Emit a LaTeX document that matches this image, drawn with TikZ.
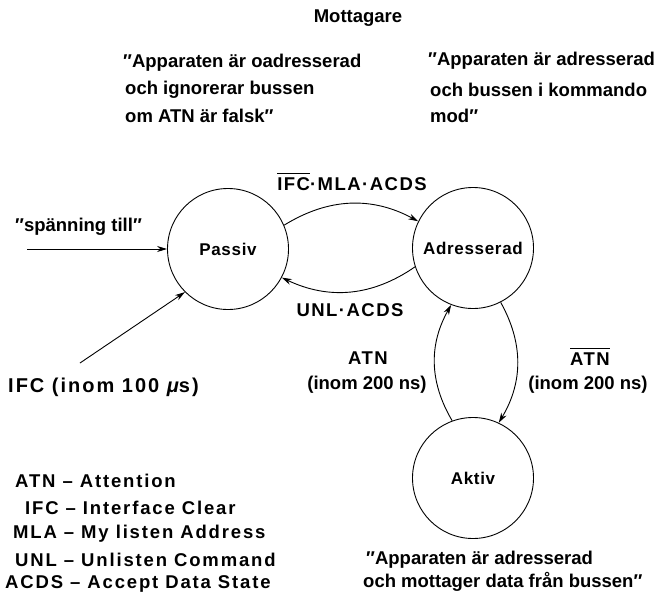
\documentclass[tikz,border=0pt]{standalone}
\usepackage{fontspec}
\setmainfont{Liberation Sans}
\newfontfamily\spacedfont{Liberation Sans}[LetterSpace=8]
\newfontfamily\widefont{Liberation Sans}[LetterSpace=10]
\newfontfamily\statefont{Liberation Sans}[LetterSpace=4]
\usetikzlibrary{arrows.meta}
% text with a bar over it (negated signal)
\newcommand\barover[1]{\vbox{\hrule height 1.5pt\kern 3pt\hbox{#1}}}

\begin{document}
\begin{tikzpicture}[x=1pt, y=-1pt,
  base/.style={inner sep=0pt, font=\bfseries\fontsize{18.5}{22}\selectfont},
  txt/.style={base, anchor=west},
  lbl/.style={inner sep=0pt, font=\spacedfont\bfseries\fontsize{18.5}{22}\selectfont},
  legend/.style={inner sep=0pt, anchor=west, font=\widefont\bfseries\fontsize{18.5}{22}\selectfont},
  state/.style={circle, draw, line width=0.9pt, minimum size=121pt, inner sep=0pt,
                font=\statefont\bfseries\fontsize{17}{20}\selectfont},
  arr/.style={line width=0.9pt, -{Stealth[length=10pt, width=6pt]}}]

\useasboundingbox (0,0) rectangle (662,597);

% title
\node[base] (title) at (358,18) {Mottagare};

% state descriptions
\node[txt] (d1a) at (123,63) {″Apparaten är oadresserad};
\node[txt] (d1b) at (125,90) {och ignorerar bussen};
\node[txt] (d1c) at (125,116) {om ATN är falsk″};
\node[txt] (d2a) at (428,61) {″Apparaten är adresserad};
\node[txt] (d2b) at (430,90) {och bussen i kommando};
\node[txt] (d2c) at (430,116) {mod″};
\node[txt] (d3a) at (366,560) {″Apparaten är adresserad};
\node[txt] (d3b) at (363,582) {och mottager data från bussen″};

% states
\node[state] (P) at (228,249) {Passiv};
\node[state] (A) at (473,248) {Adresserad};
\node[state] (K) at (473,478) {Aktiv};

% external inputs
\coordinate (pw) at (27,249);
\coordinate (ifc) at (80,363);
\node[txt] (pwl) at (15,227) {″spänning till″};
\node[inner sep=0pt, anchor=west, font=\widefont\bfseries\fontsize{20}{24}\selectfont]
  (ifcl) at (8,387) {IFC (inom 100 {\itshape μ}s)};
\draw[arr] (pw) -- (P.180);
\draw[arr] (ifc) -- (P.225);

% transitions
\draw[arr] (P.23) to[bend left=30] (A.154);
\draw[arr] (A.198) to[bend left=30] (P.-28);
\draw[arr] (K.110) to[bend left=30] (A.-111);
\draw[arr] (A.-63) to[bend left=30] (K.65);

% transition conditions
\node[lbl, anchor=base] (t1) at (352,190) {\barover{IFC}·MLA·ACDS};
\node[lbl] (t2) at (350,310) {UNL·ACDS};
\node[lbl] (t3a) at (368,358) {ATN};
\node[base] (t3b) at (367,385) {(inom 200 ns)};
\node[lbl, anchor=base] (t4a) at (590,365) {\barover{ATN}};
\node[base] (t4b) at (588,385) {(inom 200 ns)};

% abbreviations
\node[legend] (l1) at (15,481) {ATN – Attention};
\node[legend] (l2) at (25,508) {IFC – Interface Clear};
\node[legend] (l3) at (13,534) {MLA – My listen Address};
\node[legend] (l4) at (15,560) {UNL – Unlisten Command};
\node[legend] (l5) at (5,584) {ACDS – Accept Data State};
\end{tikzpicture}
\end{document}
